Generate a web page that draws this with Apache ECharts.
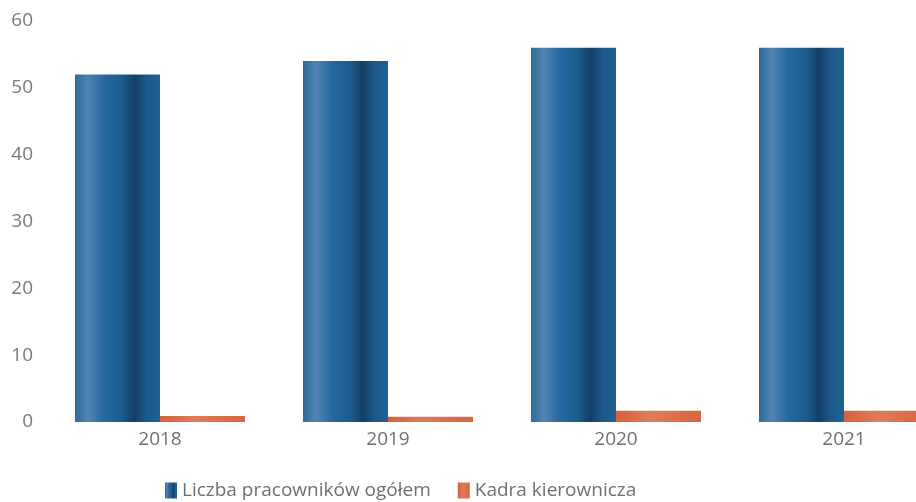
<!DOCTYPE html>
<html>
<head>
<meta charset="utf-8">
<script src="https://cdn.jsdelivr.net/npm/echarts@6/dist/echarts.min.js"></script>
<style>
  html, body { margin: 0; padding: 0; background: #fff; overflow: hidden; }
  /* wykres wychodzi poza prawa krawedz, jak w oryginale */
  #chart { width: 960px; height: 502px; }
</style>
</head>
<body>
<div id="chart"></div>
<script>
// dane
var years = ['2018', '2019', '2020', '2021'];
var ogolem = [52, 54, 56, 56];          // Liczba pracowników ogółem
var kadra = [0.9, 0.8, 1.7, 1.7];       // Kadra kierownicza
var yTicks = [0, 10, 20, 30, 40, 50, 60];

var blue = new echarts.graphic.LinearGradient(0, 0, 1, 0, [
  { offset: 0, color: '#2a6a9c' },
  { offset: 0.15, color: '#5384b0' },
  { offset: 0.35, color: '#2567a0' },
  { offset: 0.55, color: '#1d5d8e' },
  { offset: 0.7, color: '#143f66' },
  { offset: 0.85, color: '#1c5b8c' },
  { offset: 1, color: '#206294' }
]);
var orange = new echarts.graphic.LinearGradient(0, 0, 1, 0, [
  { offset: 0, color: '#d4603f' },
  { offset: 0.4, color: '#e07c5a' },
  { offset: 1, color: '#d6643f' }
]);

var chart = echarts.init(document.getElementById('chart'));
chart.setOption({
  backgroundColor: '#fff',
  textStyle: { fontFamily: 'Open Sans' },
  grid: { left: 46, top: 21, height: 401, width: 912 },
  legend: {
    left: 160, top: 476,
    icon: 'rect',
    itemWidth: 12, itemHeight: 16, itemGap: 27,
    textStyle: { fontSize: 19, color: '#707070', fontFamily: 'Open Sans' },
    data: ['Liczba pracowników ogółem', 'Kadra kierownicza']
  },
  xAxis: {
    type: 'category',
    data: years,
    axisLine: { show: false },
    axisTick: { show: false },
    axisLabel: { fontSize: 19, color: '#707070', margin: 8 }
  },
  yAxis: {
    type: 'value',
    min: yTicks[0], max: yTicks[yTicks.length - 1], interval: 10,
    splitLine: { show: false },
    axisLine: { show: false },
    axisTick: { show: false },
    axisLabel: { fontSize: 19, color: '#7a7a7a', margin: 13 }
  },
  series: [
    {
      name: 'Liczba pracowników ogółem',
      type: 'bar',
      data: ogolem,
      barWidth: 85,
      barGap: '0%',
      itemStyle: { color: blue }
    },
    {
      name: 'Kadra kierownicza',
      type: 'bar',
      data: kadra,
      barWidth: 85,
      itemStyle: { color: orange }
    }
  ]
});
</script>
</body>
</html>
